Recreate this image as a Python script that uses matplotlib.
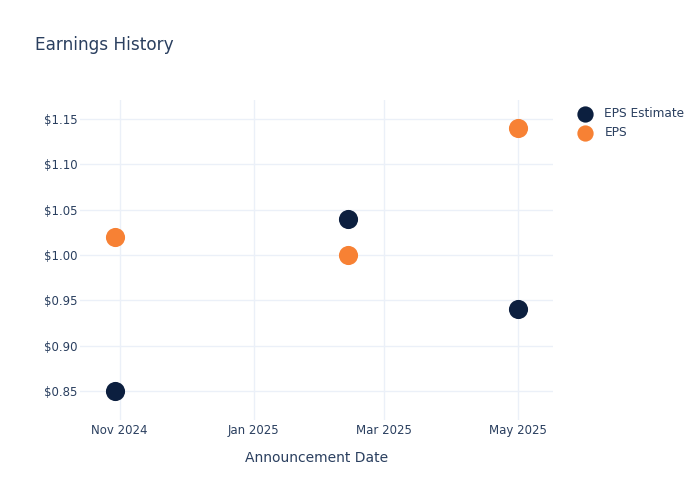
import matplotlib
matplotlib.use("Agg")
import matplotlib.pyplot as plt
import pandas as pd

dates = ["2024-10-30", "2025-02-13", "2025-05-01"]
eps_estimate = [0.85, 1.04, 0.94]
eps_actual = [1.02, 1.00, 1.14]
tick_dates = ["2024-11-01", "2025-01-01", "2025-03-01", "2025-05-01"]
tick_labels = ["Nov 2024", "Jan 2025", "Mar 2025", "May 2025"]
y_ticks = [0.85, 0.90, 0.95, 1.00, 1.05, 1.10, 1.15]

TEXT = "#2a3f5f"
GRID = "#ebf0f8"
C_EST = "#0c1f3f"
C_EPS = "#f78134"

x = pd.to_datetime(dates)

fig = plt.figure(figsize=(7, 5), dpi=100)
ax = fig.add_axes([80/700, 80/500, 473/700, 320/500])

ax.scatter(x, eps_estimate, s=190, color=C_EST, label="EPS Estimate", zorder=3, linewidths=0)
ax.scatter(x, eps_actual, s=190, color=C_EPS, label="EPS", zorder=3, linewidths=0)

ax.set_xlim(pd.Timestamp("2024-10-14"), pd.Timestamp("2025-05-17"))
ax.set_ylim(0.818, 1.171)

ax.set_xticks(pd.to_datetime(tick_dates))
ax.set_xticklabels(tick_labels)
ax.set_yticks(y_ticks)
ax.set_yticklabels([f"${v:.2f}" for v in y_ticks])

ax.grid(True, color=GRID, linewidth=1)
ax.set_axisbelow(True)
for s in ax.spines.values():
    s.set_visible(False)
ax.tick_params(length=0, labelsize=8.5, colors=TEXT)
ax.tick_params(axis="x", pad=3)
ax.tick_params(axis="y", pad=2)

ax.set_xlabel("Announcement Date", fontsize=10, color=TEXT, labelpad=10)

fig.text(35/700, 1 - 44.5/500, "Earnings History", fontsize=12.2, color=TEXT, va="center", ha="left")

leg = fig.legend(loc="upper left", bbox_to_anchor=(568/700, 1 - 102/500), frameon=False,
                 fontsize=8.7, handletextpad=0.6, labelspacing=0.55, borderaxespad=0,
                 markerscale=0.85)
for t in leg.get_texts():
    t.set_color(TEXT)

fig.savefig("out.png", dpi=100)
